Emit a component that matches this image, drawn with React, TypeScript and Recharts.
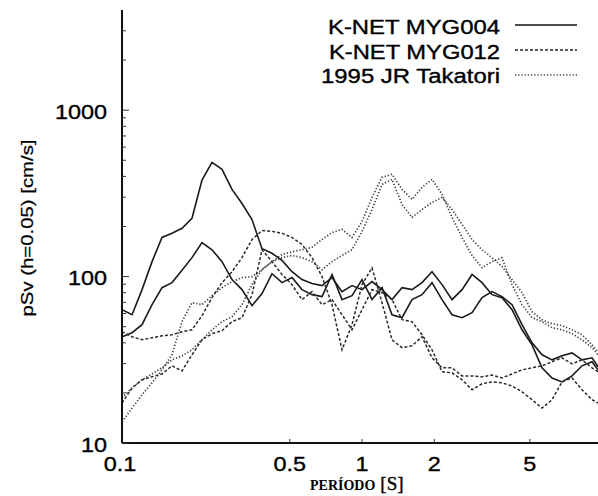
import React from 'react';
import { LineChart, Line, XAxis, YAxis } from 'recharts';

// Period [s]
const periods = [0.1, 0.1101, 0.1212, 0.1334, 0.1468, 0.1616, 0.1778, 0.1957, 0.2154, 0.2371, 0.261, 0.2873, 0.3162, 0.3481, 0.3831, 0.4217, 0.4642, 0.5109, 0.5623, 0.619, 0.6813, 0.7499, 0.8254, 0.9085, 1.0, 1.1007, 1.2115, 1.3335, 1.4678, 1.6156, 1.7783, 1.9573, 2.1544, 2.3714, 2.6102, 2.873, 3.1623, 3.4807, 3.8312, 4.217, 4.6416, 5.109, 5.6234, 6.1897, 6.8129, 7.4989, 8.254, 9.0852, 9.62];

// pSv (h=0.05) [cm/s]
const myg004A = [63.3, 59.0, 83.5, 123, 172, 182, 195, 224, 380, 486, 441, 334, 275, 220, 147, 138, 125, 107, 95.9, 90.8, 88.3, 98.6, 81.2, 88.3, 83.5, 93.3, 83.5, 72.7, 85.8, 83.5, 92.0, 107, 89.5, 72.7, 83.5, 103, 92.0, 77.9, 74.7, 63.3, 47.9, 38.9, 28.3, 24.6, 23.3, 25.3, 29.1, 30.8, 27.5];
const myg004B = [43.5, 46.0, 51.4, 67.8, 85.8, 92.0, 109, 130, 160, 145, 123, 95.9, 83.5, 66.9, 79.0, 104, 92.0, 98.6, 83.5, 77.9, 75.8, 103, 72.7, 76.8, 95.9, 72.7, 85.8, 59.0, 56.6, 72.7, 77.9, 92.0, 72.7, 59.0, 56.6, 60.7, 74.7, 81.2, 75.8, 67.8, 51.4, 40.0, 33.9, 31.6, 33.4, 34.8, 31.6, 32.5, 28.7];
const myg012A = [46.6, 43.5, 41.7, 42.9, 44.1, 44.7, 46.6, 47.9, 58.2, 74.7, 92.0, 107, 130, 167, 189, 187, 182, 172, 156, 130, 100, 67.8, 36.3, 51.4, 89.5, 113, 69.7, 41.7, 37.4, 38.4, 43.5, 32.5, 28.3, 28.3, 25.3, 25.3, 25.0, 25.6, 24.6, 26.0, 27.5, 28.3, 29.1, 30.8, 32.5, 29.9, 31.6, 28.3, 26.8];
const myg012B = [17.4, 21.4, 24.0, 25.0, 26.0, 29.1, 27.1, 33.9, 41.7, 45.4, 47.3, 53.6, 56.6, 77.9, 145, 123, 103, 89.5, 72.7, 81.2, 67.8, 72.7, 59.0, 47.9, 63.3, 83.5, 80.1, 72.7, 55.1, 53.6, 44.7, 36.3, 26.8, 26.4, 24.0, 20.9, 22.7, 23.3, 23.0, 22.0, 20.3, 18.2, 16.2, 18.2, 23.3, 24.6, 20.9, 18.2, 17.4];
const takatoriA = [18.7, 21.4, 24.0, 26.0, 28.3, 31.6, 33.4, 36.3, 41.7, 47.9, 53.6, 57.4, 67.8, 89.5, 110, 123, 136, 141, 145, 150, 167, 184, 192, 172, 214, 299, 395, 412, 334, 291, 344, 384, 312, 227, 172, 134, 113, 123, 130, 89.5, 67.8, 56.6, 53.6, 49.3, 47.9, 45.4, 41.7, 37.4, 33.9];
const takatoriB = [13.4, 16.2, 19.5, 23.0, 27.5, 34.0, 53.6, 69.7, 67.8, 76.8, 85.8, 93.3, 98.6, 100, 110, 123, 130, 134, 130, 123, 110, 123, 134, 145, 187, 253, 358, 384, 271, 227, 253, 279, 299, 253, 206, 167, 145, 130, 115, 95.9, 80.1, 61.5, 55.1, 52.1, 50.7, 47.9, 44.7, 38.9, 35.3];

const xTicks = [0.1, 0.5, 1, 2, 5];
const xTickLabels = ['0.1', '0.5', '1', '2', '5'];
const yMajorTicks = [10, 100, 1000];
const yMinorTicks = [20, 30, 40, 50, 60, 70, 80, 90, 200, 300, 400, 500, 600, 700, 800, 900, 2000, 3000];

const legendItems = [
  { label: 'K-NET MYG004', dash: undefined as string | undefined, color: '#111', len: 172 },
  { label: 'K-NET MYG012', dash: '3 2', color: '#222', len: 171 },
  { label: '1995 JR Takatori', dash: '1.3 1.9', color: '#444', len: 179 },
];

const data = periods.map((t, i) => ({
  t,
  a: myg004A[i],
  b: myg004B[i],
  c: myg012A[i],
  d: myg012B[i],
  e: takatoriA[i],
  f: takatoriB[i],
}));

const FONT = '"Liberation Sans", Arial, sans-serif';
const STRETCH = 1.17;
const digitW = 0.556 * 20;
const labelLen = (s: string) => {
  let w = 0;
  for (const ch of s) w += ch === '.' ? 0.278 * 20 : digitW;
  return w * STRETCH;
};

const YTick = (props: any) => {
  const { x, y, payload } = props;
  const v = payload.value;
  const major = yMajorTicks.includes(v);
  const s = String(v);
  return (
    <g>
      <line x1={x} x2={x + (major ? 7 : 4)} y1={y} y2={y} stroke="#333" strokeWidth={1} />
      {major && (
        <text
          x={x - 15}
          y={y + 8.5}
          textAnchor="end"
          fontFamily={FONT}
          fontSize={20}
          fill="#000"
          stroke="#000"
          strokeWidth={0.35}
          textLength={labelLen(s)}
          lengthAdjust="spacingAndGlyphs"
        >
          {s}
        </text>
      )}
    </g>
  );
};

const XTick = (props: any) => {
  const { x, y, payload } = props;
  const idx = xTicks.indexOf(payload.value);
  const label = idx >= 0 ? xTickLabels[idx] : '';
  return (
    <g>
      {payload.value !== 0.1 && (
        <line x1={x} x2={x} y1={y} y2={y - 4} stroke="#333" strokeWidth={1} />
      )}
      <text
        x={payload.value === 0.1 ? x - 2 : x}
        y={y + 28}
        textAnchor="middle"
        fontFamily={FONT}
        fontSize={20}
        fill="#000"
        stroke="#000"
        strokeWidth={0.35}
        textLength={labelLen(label)}
        lengthAdjust="spacingAndGlyphs"
      >
        {label}
      </text>
    </g>
  );
};

export default function App() {
  return (
    <div style={{ position: 'absolute', left: 0, top: 0, width: 598, height: 496, background: '#fff' }}>
      <LineChart width={598} height={496} data={data} margin={{ top: 10, right: 0, bottom: 23, left: 62 }}>
        <XAxis
          dataKey="t"
          type="number"
          scale="log"
          domain={[0.1, 9.62]}
          allowDataOverflow
          ticks={xTicks}
          interval={0}
          tickSize={0}
          tickMargin={0}
          tickLine={false}
          tick={<XTick />}
          height={30}
          axisLine={{ stroke: '#111', strokeWidth: 2 }}
        />
        <YAxis
          type="number"
          scale="log"
          domain={[10, 4000]}
          allowDataOverflow
          ticks={[...yMajorTicks, ...yMinorTicks]}
          interval={0}
          tickSize={0}
          tickMargin={0}
          tickLine={false}
          tick={<YTick />}
          width={60}
          axisLine={{ stroke: '#111', strokeWidth: 2 }}
        />
        <Line dataKey="a" type="linear" stroke="#1a1a1a" strokeWidth={1.6} dot={false} isAnimationActive={false} />
        <Line dataKey="b" type="linear" stroke="#1a1a1a" strokeWidth={1.6} dot={false} isAnimationActive={false} />
        <Line dataKey="c" type="linear" stroke="#2a2a2a" strokeWidth={1.5} strokeDasharray="3 2" dot={false} isAnimationActive={false} />
        <Line dataKey="d" type="linear" stroke="#2a2a2a" strokeWidth={1.5} strokeDasharray="3 2" dot={false} isAnimationActive={false} />
        <Line dataKey="e" type="linear" stroke="#444" strokeWidth={1.7} strokeDasharray="1.3 1.9" dot={false} isAnimationActive={false} />
        <Line dataKey="f" type="linear" stroke="#444" strokeWidth={1.7} strokeDasharray="1.3 1.9" dot={false} isAnimationActive={false} />
      </LineChart>
      <svg width={598} height={496} style={{ position: 'absolute', left: 0, top: 0, pointerEvents: 'none' }}>
        {legendItems.map((it, i) => (
          <g key={it.label}>
            <text
              x={500}
              y={34 + i * 24.5}
              textAnchor="end"
              fontFamily={FONT}
              fontSize={20}
              fill="#000"
              stroke="#000"
              strokeWidth={0.35}
              textLength={it.len}
              lengthAdjust="spacingAndGlyphs"
            >
              {it.label}
            </text>
            <line x1={515} x2={577} y1={25 + i * 25} y2={25 + i * 25} stroke={it.color} strokeWidth={1.6} strokeDasharray={it.dash} />
          </g>
        ))}
        <text
          transform="translate(33,228) rotate(-90)"
          textAnchor="middle"
          fontFamily={FONT}
          fontSize={17}
          fill="#000"
          stroke="#000"
          strokeWidth={0.25}
          textLength={177}
          lengthAdjust="spacingAndGlyphs"
        >
          pSv (h=0.05) [cm/s]
        </text>
        <text x={310} y={490} fill="#000">
          <tspan fontFamily='"Liberation Serif", serif' fontWeight="bold" fontSize={14}>PERÍODO</tspan>
          <tspan fontFamily='"Liberation Serif", serif' fontSize={19} dx={5} stroke="#000" strokeWidth={0.4}>[S]</tspan>
        </text>
      </svg>
    </div>
  );
}
